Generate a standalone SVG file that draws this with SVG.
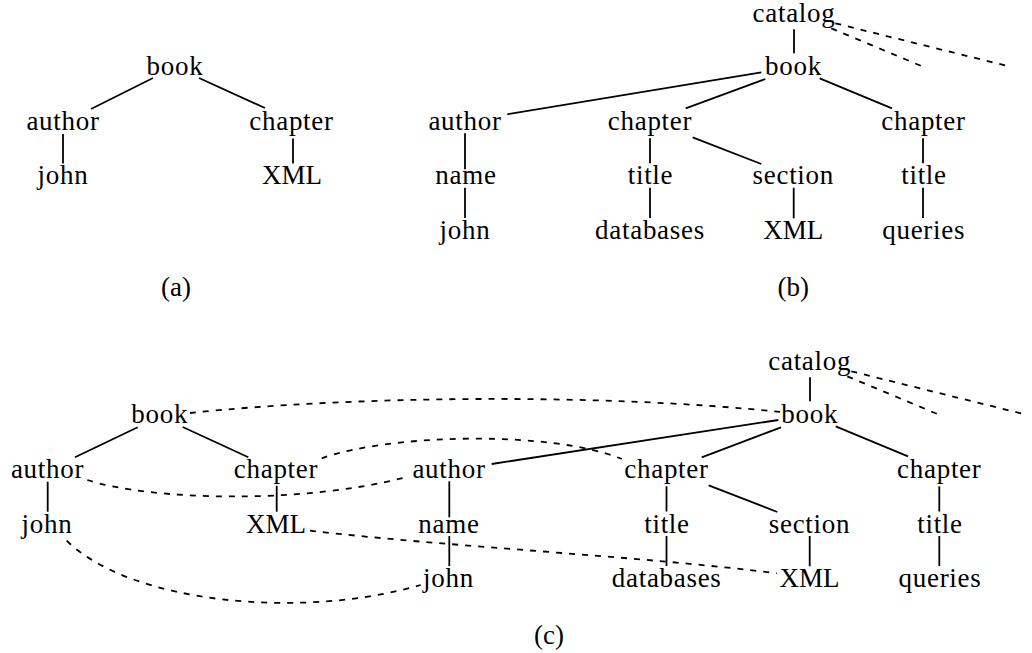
<svg xmlns="http://www.w3.org/2000/svg" width="1032" height="653" viewBox="0 0 1032 653">
<style>
.n{font-family:"Liberation Serif","DejaVu Serif",serif;font-size:27px;fill:#000;text-anchor:middle;letter-spacing:0.7px}
.n.c{letter-spacing:0}
.e{stroke:#000;stroke-width:1.8;fill:none}
.d{stroke:#000;stroke-width:1.8;fill:none;stroke-dasharray:6 7}
</style>
<rect width="1032" height="653" fill="#fff"/>
<g id="connectors">
<!-- (a) -->
<line class="e" x1="153" y1="78" x2="91" y2="109"/>
<line class="e" x1="199" y1="78" x2="265" y2="108"/>
<line class="e" x1="63" y1="134" x2="63" y2="163.5"/>
<line class="e" x1="293" y1="138.5" x2="293" y2="163.5"/>
<!-- (b) -->
<line class="e" x1="794" y1="29.3" x2="794" y2="53.3"/>
<line class="e" x1="761.3" y1="72.3" x2="507.3" y2="114.3"/>
<line class="e" x1="765.3" y1="79" x2="685.7" y2="108.3"/>
<line class="e" x1="819.7" y1="78.3" x2="892" y2="108.3"/>
<line class="e" x1="465" y1="133.3" x2="465" y2="169.3"/>
<line class="e" x1="465" y1="187.7" x2="465" y2="218"/>
<line class="e" x1="650" y1="138.3" x2="650" y2="163.3"/>
<line class="e" x1="650" y1="187.7" x2="650" y2="218"/>
<line class="e" x1="692.7" y1="137.3" x2="761.3" y2="164"/>
<line class="e" x1="793.7" y1="187.7" x2="793.7" y2="218.3"/>
<line class="e" x1="923" y1="138.3" x2="923" y2="163.3"/>
<line class="e" x1="923" y1="187.7" x2="923" y2="218"/>
<line class="d" x1="835.3" y1="23.3" x2="1010.3" y2="66.7"/>
<line class="d" x1="831.3" y1="28.3" x2="921.3" y2="66"/>
<!-- (c) left -->
<line class="e" x1="137.7" y1="427.3" x2="75" y2="457.3"/>
<line class="e" x1="182.7" y1="427" x2="248.3" y2="457.3"/>
<line class="e" x1="47.7" y1="481.7" x2="47.7" y2="511.7"/>
<line class="e" x1="276.7" y1="485.7" x2="276.7" y2="511.7"/>
<!-- (c) right -->
<line class="e" x1="810" y1="377.3" x2="810" y2="401.3"/>
<line class="e" x1="778.3" y1="420" x2="491.7" y2="464"/>
<line class="e" x1="781" y1="427.3" x2="701.7" y2="457.3"/>
<line class="e" x1="835.7" y1="426.3" x2="908" y2="456.3"/>
<line class="e" x1="449.3" y1="481.3" x2="449.3" y2="517.3"/>
<line class="e" x1="449.3" y1="536" x2="449.3" y2="566"/>
<line class="e" x1="666.5" y1="486.3" x2="666.5" y2="511.5"/>
<line class="e" x1="666.5" y1="536" x2="666.5" y2="566"/>
<line class="e" x1="708.7" y1="485.3" x2="777.3" y2="512"/>
<line class="e" x1="809.7" y1="536" x2="809.7" y2="566.3"/>
<line class="e" x1="939.3" y1="486.3" x2="939.3" y2="511.5"/>
<line class="e" x1="939.3" y1="536" x2="939.3" y2="566"/>
<line class="d" x1="851.3" y1="371.3" x2="1026.3" y2="414.7"/>
<line class="d" x1="847.3" y1="376.3" x2="937.3" y2="414"/>
<!-- (c) mapping -->
<path class="d" d="M190,413 C350,396 600,393 781,412"/>
<path class="d" d="M321.7,458.3 C390,434 550,430 621.7,459"/>
<path class="d" d="M87.3,480 C150,500 300,505 408,476.7"/>
<path class="d" d="M310,530.7 C450,547 640,556 776.7,573.3"/>
<path class="d" d="M66.7,540.7 C130,603 300,620 420.7,585"/>
</g>
<!-- (a) nodes -->
<g id="a-book"><text class="n" x="175" y="75">book</text></g>
<g id="a-author"><text class="n" x="63" y="130">author</text></g>
<g id="a-chapter"><text class="n" x="291.5" y="130">chapter</text></g>
<g id="a-john"><text class="n" x="63" y="184">john</text></g>
<g id="a-xml"><text class="n c" x="292" y="184">XML</text></g>
<g id="label-a"><text class="n c" x="176" y="296">(a)</text></g>
<!-- (b) nodes -->
<g id="b-catalog"><text class="n" x="794" y="22">catalog</text></g>
<g id="b-book"><text class="n" x="793.5" y="75">book</text></g>
<g id="b-author"><text class="n" x="465" y="130">author</text></g>
<g id="b-chapter1"><text class="n" x="650" y="130">chapter</text></g>
<g id="b-chapter2"><text class="n" x="923.5" y="130">chapter</text></g>
<g id="b-name"><text class="n" x="466" y="184">name</text></g>
<g id="b-title1"><text class="n" x="650.5" y="184">title</text></g>
<g id="b-section"><text class="n" x="793.3" y="184">section</text></g>
<g id="b-title2"><text class="n" x="924" y="184">title</text></g>
<g id="b-john"><text class="n" x="465" y="239">john</text></g>
<g id="b-databases"><text class="n" x="650" y="239">databases</text></g>
<g id="b-xml"><text class="n c" x="793.3" y="239">XML</text></g>
<g id="b-queries"><text class="n" x="923.7" y="239">queries</text></g>
<g id="label-b"><text class="n c" x="793.3" y="296">(b)</text></g>
<!-- (c) nodes -->
<g id="c-book-l"><text class="n" x="159.7" y="423">book</text></g>
<g id="c-author-l"><text class="n" x="47.5" y="478">author</text></g>
<g id="c-chapter-l"><text class="n" x="276" y="478">chapter</text></g>
<g id="c-john-l"><text class="n" x="47" y="533">john</text></g>
<g id="c-xml-l"><text class="n c" x="276" y="533">XML</text></g>
<g id="c-catalog"><text class="n" x="809.7" y="370">catalog</text></g>
<g id="c-book"><text class="n" x="809.7" y="423.3">book</text></g>
<g id="c-author"><text class="n" x="449" y="478">author</text></g>
<g id="c-chapter1"><text class="n" x="666.5" y="478">chapter</text></g>
<g id="c-chapter2"><text class="n" x="939.3" y="478">chapter</text></g>
<g id="c-name"><text class="n" x="449" y="533">name</text></g>
<g id="c-title1"><text class="n" x="667" y="533">title</text></g>
<g id="c-section"><text class="n" x="809.5" y="533">section</text></g>
<g id="c-title2"><text class="n" x="940" y="533">title</text></g>
<g id="c-john"><text class="n" x="448.5" y="587">john</text></g>
<g id="c-databases"><text class="n" x="666.7" y="587">databases</text></g>
<g id="c-xml"><text class="n c" x="809.5" y="587">XML</text></g>
<g id="c-queries"><text class="n" x="940" y="587">queries</text></g>
<g id="label-c"><text class="n c" x="549" y="644">(c)</text></g>
</svg>
